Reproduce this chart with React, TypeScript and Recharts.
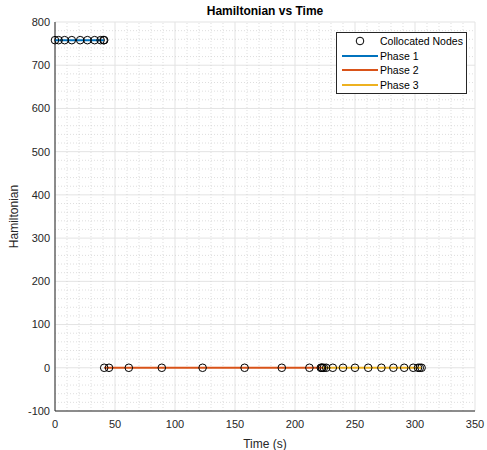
import React from "react";
import {
  ComposedChart, Scatter, XAxis, YAxis, CartesianGrid, ReferenceLine, Legend,
} from "recharts";

// node times (s) and Hamiltonian values
const phase1Time = [0, 3, 8, 14, 21, 27, 33, 38, 40.5, 41];
const phase1H = [758, 758, 758, 758, 758, 758, 758, 758, 758, 758];
const phase2Time = [41, 45, 61.5, 89, 123, 158, 189, 212, 221.5, 222.5];
const phase2H = [0, 0, 0, 0, 0, 0, 0, 0, 0, 0];
const phase3Time = [222.5, 224, 226, 231.5, 240, 250, 261, 272, 282, 291, 298.5, 302.5, 304, 305.5];
const phase3H = [0, 0, 0, 0, 0, 0, 0, 0, 0, 0, 0, 0, 0, 0];

const xTicks = [0, 50, 100, 150, 200, 250, 300, 350];
const yTicks = [-100, 0, 100, 200, 300, 400, 500, 600, 700, 800];
const xMinor = [10, 20, 30, 40, 60, 70, 80, 90, 110, 120, 130, 140, 160, 170, 180, 190, 210, 220, 230, 240, 260, 270, 280, 290, 310, 320, 330, 340];
const yMinor = [-80, -60, -40, -20, 20, 40, 60, 80, 120, 140, 160, 180, 220, 240, 260, 280, 320, 340, 360, 380, 420, 440, 460, 480, 520, 540, 560, 580, 620, 640, 660, 680, 720, 740, 760, 780];

const toPoints = (t: number[], h: number[]) => t.map((v, i) => ({ t: v, h: h[i] }));
const p1 = toPoints(phase1Time, phase1H);
const p2 = toPoints(phase2Time, phase2H);
const p3 = toPoints(phase3Time, phase3H);
const nodes = [...p1, ...p2, ...p3];

const FONT = "'Liberation Sans', Arial, sans-serif";
const AXIS = "#262626";
const COLORS = { p1: "#0072BD", p2: "#D95319", p3: "#EDB120" };

const Ring = (props: any) => (
  <circle cx={props.cx} cy={props.cy} r={3.8} fill="none" stroke="#000" strokeWidth={1} />
);
const NoDot = () => null;

function MatlabLegend() {
  const row = { display: "flex", alignItems: "center", height: 14.5, whiteSpace: "nowrap" } as const;
  const line = (c: string) => (
    <svg width={36} height={6} style={{ marginRight: 2, flexShrink: 0 }}>
      <line x1={0} y1={3} x2={36} y2={3} stroke={c} strokeWidth={2} />
    </svg>
  );
  return (
    <div style={{
      boxSizing: "border-box", border: "1px solid #262626", background: "#fff", padding: "1px 2px 1px 5px",
      fontFamily: FONT, fontSize: 10.5, color: "#000", width: 131,
    }}>
      <div style={row}>
        <svg width={36} height={10} style={{ marginRight: 2, flexShrink: 0 }}>
          <circle cx={18} cy={5} r={3.8} fill="none" stroke="#000" />
        </svg>
        Collocated Nodes
      </div>
      <div style={row}>{line(COLORS.p1)}Phase 1</div>
      <div style={row}>{line(COLORS.p2)}Phase 2</div>
      <div style={row}>{line(COLORS.p3)}Phase 3</div>
    </div>
  );
}

export default function App() {
  return (
    <div style={{ position: "absolute", left: 0, top: 0, width: 487, height: 450, background: "#fff", fontFamily: FONT }}>
      <div style={{
        position: "absolute", left: 55, width: 420, top: 4, textAlign: "center",
        fontWeight: "bold", fontSize: 12, color: "#000",
      }}>
        Hamiltonian vs Time
      </div>
      <ComposedChart width={487} height={450} margin={{ top: 22, right: 12, bottom: 0, left: 0 }}>
        <CartesianGrid stroke="#e3e3e3" strokeWidth={1} />
        {xMinor.map((v) => (
          <ReferenceLine key={"x" + v} x={v} stroke="#d0d0d0" strokeDasharray="1 2" strokeWidth={0.7} />
        ))}
        {yMinor.map((v) => (
          <ReferenceLine key={"y" + v} y={v} stroke="#d0d0d0" strokeDasharray="1 2" strokeWidth={0.7} />
        ))}
        <XAxis
          type="number" dataKey="t" domain={[0, 350]} ticks={xTicks} height={39}
          stroke={AXIS} tickSize={0} tickMargin={9}
          tick={{ fontSize: 11, fill: AXIS, fontFamily: FONT }}
          label={{ value: "Time (s)", position: "insideBottom", offset: 2, fontSize: 12, fill: AXIS, fontFamily: FONT }}
        />
        <XAxis
          xAxisId="bottomTicks" orientation="bottom" type="number" dataKey="t" domain={[0, 350]} ticks={xTicks}
          stroke={AXIS} mirror tick={false} tickSize={4} height={0}
        />
        <XAxis
          xAxisId="top" orientation="top" type="number" dataKey="t" domain={[0, 350]} ticks={xTicks}
          stroke={AXIS} mirror tick={false} tickSize={4} height={0}
        />
        <YAxis
          type="number" dataKey="h" domain={[-100, 800]} ticks={yTicks} width={55}
          stroke={AXIS} tickSize={0} tickMargin={5}
          tick={{ fontSize: 11, fill: AXIS, fontFamily: FONT }}
          label={{ value: "Hamiltonian", angle: -90, position: "insideLeft", offset: 14, fontSize: 12, fill: AXIS, fontFamily: FONT, style: { textAnchor: "middle" } }}
        />
        <YAxis
          yAxisId="leftTicks" orientation="left" type="number" dataKey="h" domain={[-100, 800]} ticks={yTicks}
          stroke={AXIS} mirror tick={false} tickSize={4} width={0}
        />
        <YAxis
          yAxisId="right" orientation="right" type="number" dataKey="h" domain={[-100, 800]} ticks={yTicks}
          stroke={AXIS} mirror tick={false} tickSize={4} width={0}
        />
        <Scatter data={p1} dataKey="h" line={{ stroke: COLORS.p1, strokeWidth: 2 }} shape={NoDot} isAnimationActive={false} />
        <Scatter data={p2} dataKey="h" line={{ stroke: COLORS.p2, strokeWidth: 2 }} shape={NoDot} isAnimationActive={false} />
        <Scatter data={p3} dataKey="h" line={{ stroke: COLORS.p3, strokeWidth: 2 }} shape={NoDot} isAnimationActive={false} />
        <Scatter data={nodes} dataKey="h" shape={Ring} isAnimationActive={false} />
        <Legend
          layout="horizontal" verticalAlign="middle" align="center"
          wrapperStyle={{ position: "absolute", left: 336, top: 32, width: 131 }}
          content={() => <MatlabLegend />}
        />
      </ComposedChart>
    </div>
  );
}
